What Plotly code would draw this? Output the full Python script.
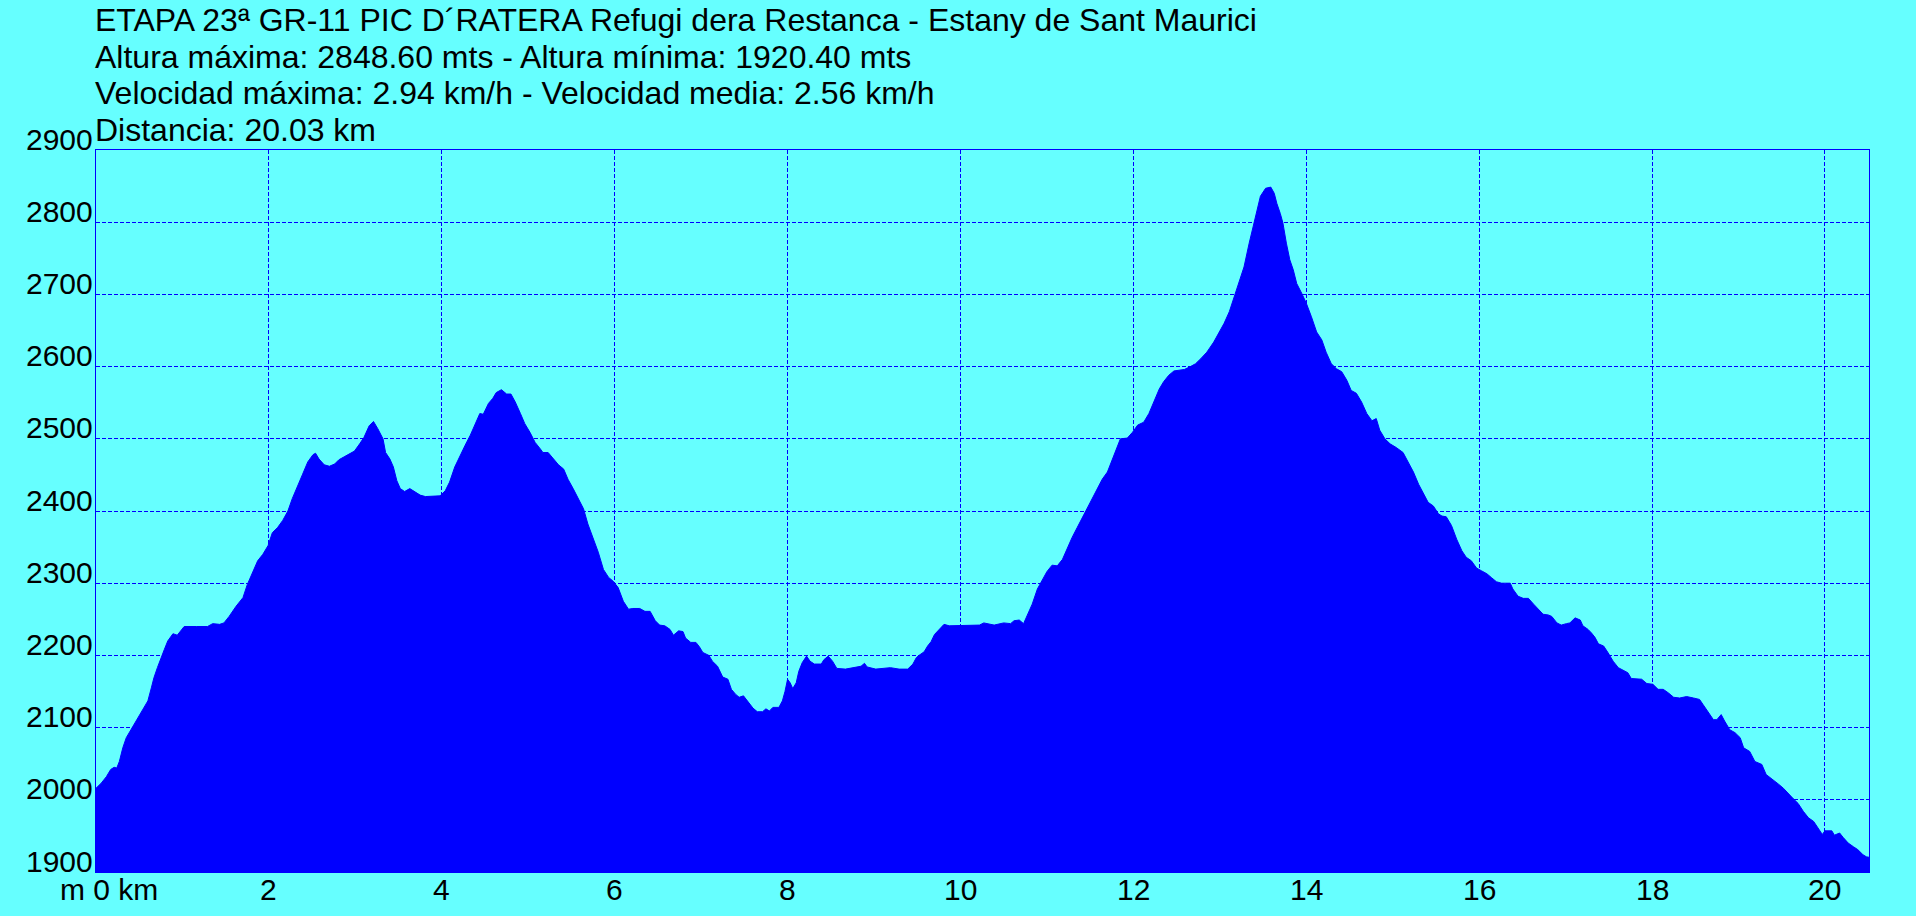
import plotly.graph_objects as go

# ---- data (km, m) ----
dist_km = [
    0.00, 0.06, 0.12, 0.17, 0.21, 0.24, 0.27, 0.31, 0.35, 0.39, 0.42, 0.48, 0.54, 0.60, 0.64, 0.67,
    0.71, 0.75, 0.79, 0.83, 0.89, 0.94, 0.98, 1.02, 1.16, 1.29, 1.35, 1.43, 1.48, 1.54, 1.62, 1.70,
    1.75, 1.81, 1.87, 1.93, 1.99, 2.04, 2.10, 2.16, 2.22, 2.27, 2.33, 2.39, 2.45, 2.51, 2.54, 2.58,
    2.64, 2.70, 2.76, 2.81, 2.87, 2.93, 2.99, 3.05, 3.10, 3.16, 3.21, 3.26, 3.32, 3.35,
    3.40, 3.44, 3.48, 3.52, 3.57, 3.63, 3.69, 3.75, 3.81, 3.90, 3.98, 4.04, 4.09, 4.15, 4.21, 4.27,
    4.33, 4.38, 4.44, 4.48, 4.54, 4.59, 4.63, 4.69, 4.75, 4.80, 4.85, 4.91, 4.96, 5.02, 5.08, 5.14,
    5.17, 5.23, 5.29, 5.35, 5.41, 5.46, 5.52, 5.58, 5.64, 5.69, 5.75, 5.81, 5.87, 5.93, 5.98, 6.04,
    6.10, 6.16, 6.21, 6.29, 6.35, 6.41, 6.47, 6.52, 6.58, 6.64, 6.68, 6.74, 6.79,
    6.82, 6.88, 6.94, 6.98, 7.02, 7.09, 7.13, 7.19, 7.25, 7.31, 7.35, 7.40, 7.44, 7.49, 7.54, 7.60,
    7.65, 7.71, 7.75, 7.79, 7.83, 7.90, 7.94, 7.97, 8.00, 8.03, 8.06, 8.10, 8.13, 8.17, 8.22, 8.26,
    8.31, 8.39, 8.42, 8.47, 8.52, 8.57, 8.67, 8.79, 8.85, 8.89, 8.92, 9.02, 9.14, 9.19, 9.29, 9.39,
    9.45, 9.49, 9.52, 9.58, 9.62, 9.66, 9.70, 9.75, 9.81, 9.87, 10.10, 10.22,
    10.27, 10.39, 10.50, 10.58, 10.62, 10.68, 10.73, 10.77, 10.83, 10.89, 10.95, 11.00, 11.06, 11.12,
    11.18, 11.24, 11.29, 11.35, 11.43, 11.51, 11.58, 11.64, 11.70, 11.76, 11.81, 11.85, 11.93, 11.99,
    12.05, 12.12, 12.18, 12.24, 12.30, 12.35, 12.41, 12.47, 12.59, 12.66, 12.72, 12.78, 12.85, 12.93,
    12.99, 13.05, 13.11, 13.16, 13.22, 13.28, 13.34, 13.40, 13.43, 13.47, 13.53, 13.59, 13.63, 13.66,
    13.70, 13.73, 13.77, 13.81, 13.85, 13.89, 13.95, 14.00, 14.06, 14.12, 14.18, 14.23, 14.29, 14.35,
    14.41, 14.47, 14.52, 14.58, 14.64, 14.70, 14.76, 14.81, 14.85, 14.91, 14.97, 15.04, 15.12, 15.18,
    15.24, 15.30, 15.35, 15.41, 15.47, 15.53, 15.57, 15.62, 15.68, 15.74, 15.80, 15.85, 15.91, 15.97,
    16.03, 16.09, 16.14, 16.20, 16.26, 16.36, 16.39, 16.45, 16.51, 16.57, 16.63, 16.68, 16.74, 16.80,
    16.84, 16.90, 16.95, 17.01, 17.05, 17.11, 17.17,
    17.20, 17.26, 17.30, 17.34, 17.38, 17.44, 17.49, 17.55, 17.61, 17.67, 17.72, 17.76, 17.82, 17.88,
    17.94, 18.01, 18.07, 18.13, 18.19, 18.25, 18.32, 18.40, 18.48, 18.55, 18.59, 18.63, 18.67, 18.71,
    18.75, 18.80, 18.84, 18.90, 18.96, 19.02, 19.06, 19.13, 19.19, 19.27, 19.32, 19.40, 19.46, 19.52,
    19.58, 19.63, 19.69, 19.75, 19.81, 19.87, 19.92, 19.97, 20.00, 20.08, 20.11, 20.17, 20.21, 20.27,
    20.33, 20.38, 20.44, 20.48, 20.51,
]
elev_m = [
    2016, 2023, 2032, 2042, 2045, 2044, 2053, 2072, 2086, 2094, 2102, 2113, 2125, 2137, 2155, 2169,
    2183, 2197, 2208, 2220, 2230, 2228, 2234, 2240, 2240, 2240, 2244, 2243, 2245, 2254, 2268, 2280,
    2298, 2315, 2331, 2340, 2352, 2370, 2377, 2387, 2400, 2417, 2435, 2451, 2468, 2478, 2480, 2472,
    2464, 2462, 2465, 2471, 2475, 2479, 2483, 2493, 2502, 2518, 2524, 2514, 2500, 2481,
    2472, 2461, 2442, 2431, 2427, 2431, 2427, 2422, 2420, 2420, 2421, 2428, 2440, 2461, 2477, 2491,
    2505, 2518, 2535, 2534, 2549, 2556, 2564, 2568, 2562, 2562, 2551, 2535, 2521, 2509, 2495, 2486,
    2481, 2481, 2472, 2464, 2458, 2444, 2431, 2417, 2403, 2382, 2363, 2343, 2319, 2308, 2303, 2294,
    2275, 2264, 2265, 2265, 2261, 2261, 2248, 2242, 2241, 2236, 2228, 2234, 2233,
    2224, 2218, 2218, 2212, 2204, 2200, 2192, 2185, 2170, 2167, 2153, 2146, 2142, 2144, 2137, 2127,
    2122, 2122, 2126, 2123, 2128, 2128, 2137, 2150, 2167, 2162, 2154, 2162, 2178, 2190, 2199, 2192,
    2188, 2188, 2194, 2199, 2192, 2182, 2181, 2183, 2185, 2189, 2184, 2181, 2182, 2183, 2181, 2181,
    2188, 2197, 2200, 2205, 2213, 2219, 2229, 2236, 2243, 2241, 2242, 2242,
    2245, 2242, 2245, 2244, 2248, 2249, 2244, 2255, 2271, 2292, 2306, 2316, 2325, 2324,
    2333, 2350, 2363, 2377, 2396, 2414, 2431, 2444, 2454, 2472, 2488, 2500, 2501, 2509,
    2519, 2523, 2535, 2553, 2569, 2579, 2588, 2594, 2596, 2600, 2604, 2611, 2620, 2634,
    2646, 2660, 2676, 2694, 2715, 2738, 2771, 2801, 2817, 2836, 2847, 2848.6, 2840, 2826,
    2812, 2799, 2771, 2748, 2734, 2715, 2701, 2688, 2669, 2648, 2637, 2620, 2604, 2597,
    2593, 2581, 2567, 2563, 2551, 2535, 2525, 2528, 2512, 2500, 2493, 2488, 2481, 2468,
    2454, 2437, 2426, 2412, 2407, 2396, 2393, 2392, 2380, 2361, 2345, 2336, 2331, 2321,
    2317, 2313, 2308, 2302, 2300, 2300, 2292, 2282, 2279, 2279, 2271, 2264, 2257, 2256,
    2254, 2245, 2242, 2244, 2245, 2252, 2249,
    2241, 2236, 2231, 2225, 2216, 2213, 2204, 2192, 2183, 2179, 2176, 2168, 2168, 2167,
    2161, 2160, 2153, 2153, 2148, 2142, 2141, 2143, 2141, 2139, 2132, 2125, 2118, 2111,
    2111, 2118, 2109, 2097, 2093, 2086, 2072, 2067, 2053, 2049, 2035, 2028, 2022, 2016,
    2008, 2002, 1995, 1984, 1975, 1970, 1961, 1952, 1957, 1957, 1951, 1954, 1948, 1940,
    1935, 1931, 1924, 1921, 1920.4,
]

x_tick_vals = [2, 4, 6, 8, 10, 12, 14, 16, 18, 20]
x_tick_text = ["2", "4", "6", "8", "10", "12", "14", "16", "18", "20"]
x_origin_label = "m 0 km"
y_tick_vals = [1900, 2000, 2100, 2200, 2300, 2400, 2500, 2600, 2700, 2800, 2900]

title_lines = [
    "ETAPA 23ª GR-11 PIC D´RATERA Refugi dera Restanca - Estany de Sant Maurici",
    "Altura máxima: 2848.60 mts - Altura mínima: 1920.40 mts",
    "Velocidad máxima: 2.94 km/h - Velocidad media: 2.56 km/h",
    "Distancia: 20.03 km",
]

# ---- layout geometry (pixels) ----
W, H = 1916, 916
L, R, T, B = 96, 1869, 150, 872
PW, PH = R - L, B - T

FONT = "Liberation Sans, Arial, sans-serif"
BG = "#66FFFF"
BLUE = "#0000FF"
TITLE_SIZE = 32
TICK_SIZE = 30


def px_x(px):
    return (px - L) / PW


def px_y(py):
    return (B - py) / PH


fig = go.Figure()
fig.add_trace(go.Scatter(
    x=dist_km, y=elev_m, mode="lines", fill="tozeroy",
    fillcolor=BLUE, line=dict(color=BLUE, width=1), hoverinfo="skip",
))

annotations = []
for i, t in enumerate(title_lines):
    annotations.append(dict(
        text=t, xref="paper", yref="paper", x=px_x(L - 3), y=px_y(20 + i * 36.7),
        xanchor="left", yanchor="middle", showarrow=False,
        font=dict(family=FONT, size=TITLE_SIZE, color="black"),
    ))
# y tick labels (sit just above their grid line, right-aligned to the frame)
for v in y_tick_vals:
    annotations.append(dict(
        text=str(v), xref="paper", yref="y", x=px_x(95), y=v, yshift=11,
        xanchor="right", yanchor="middle", showarrow=False,
        font=dict(family=FONT, size=TICK_SIZE, color="black"),
    ))
# x tick labels
for v, t in zip(x_tick_vals, x_tick_text):
    annotations.append(dict(
        text=t, xref="x", yref="paper", x=v, y=px_y(889),
        xanchor="center", yanchor="middle", showarrow=False,
        font=dict(family=FONT, size=TICK_SIZE, color="black"),
    ))
annotations.append(dict(
    text=x_origin_label, xref="paper", yref="paper", x=px_x(58), y=px_y(889),
    xanchor="left", yanchor="middle", showarrow=False,
    font=dict(family=FONT, size=TICK_SIZE, color="black"),
))

axis_common = dict(
    showgrid=True, gridcolor=BLUE, gridwidth=1, griddash="4px,2px",
    showline=True, linecolor=BLUE, linewidth=1, mirror=True,
    zeroline=False, ticks="", showticklabels=False,
    fixedrange=True, automargin=False,
)

fig.update_layout(
    width=W, height=H,
    margin=dict(l=L, r=W - R, t=T, b=H - B, pad=0, autoexpand=False),
    paper_bgcolor=BG, plot_bgcolor=BG,
    showlegend=False,
    font=dict(family=FONT, size=TICK_SIZE, color="black"),
    xaxis=dict(range=[0, 20.51], tickmode="array", tickvals=[0] + x_tick_vals, **axis_common),
    yaxis=dict(range=[1900, 2900], tickmode="array", tickvals=y_tick_vals, **axis_common),
    annotations=annotations,
)

fig.write_html(
    "out.html",
    config={"displayModeBar": False},
    post_script="document.body.style.margin='0';document.body.style.padding='0';"
                "document.body.style.overflow='hidden';"
                "document.body.style.background='" + BG + "';",
)
